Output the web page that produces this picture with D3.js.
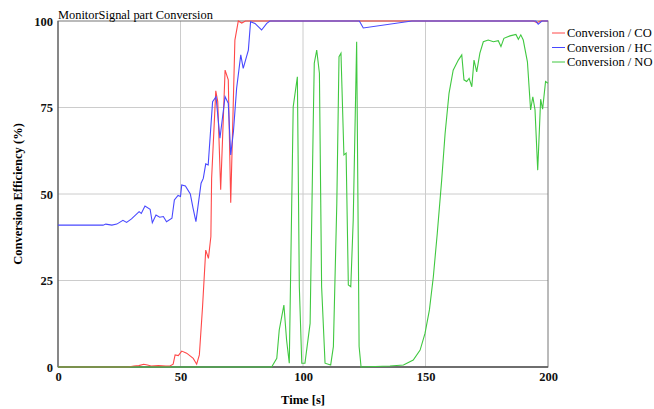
<!DOCTYPE html>
<html>
<head>
<meta charset="utf-8">
<title></title>
<script src="https://cdnjs.cloudflare.com/ajax/libs/d3/7.8.5/d3.min.js"></script>
<style>
  body { margin: 0; background: #fff; }
  text { font-family: "Liberation Serif", "Times New Roman", serif; }
</style>
</head>
<body>
<script>
const width = 654, height = 409;
const margin = {top: 21, right: 106, bottom: 42, left: 58};

// data, time in s, conversion in %
const coTime = [0, 28.6, 31, 33, 35, 36.5, 38, 41, 44, 45.7, 47, 47.8, 49.1, 50.5, 52.5, 55.2, 56.6, 57.7, 59, 60.3, 61.4, 62.4, 62.7, 64.4, 65.2, 66.4, 68.2, 69.5, 70.5, 72.2, 73.6, 75, 76.5, 194, 195.5, 197, 200];
const coValue = [0, 0, 0.3, 0.4, 0.8, 0.6, 0.3, 0.4, 0.3, 0.3, 0.8, 3.5, 3.3, 4.6, 4.0, 2.5, 0.8, 3.5, 17.4, 33.8, 31.4, 37.7, 54.5, 79.8, 76.7, 51.2, 85.8, 83, 47.5, 94.5, 100, 99.4, 100, 100, 99.5, 100, 100];

const hcTime = [0, 18.4, 19.5, 22, 24, 26.5, 28, 30, 33.1, 34, 35.5, 37.6, 38.5, 40, 41.5, 43, 44.3, 46.5, 47.5, 49, 50, 50.5, 52, 54, 55.1, 56.3, 58.4, 59.3, 60.3, 61.3, 63.1, 64.5, 66.1, 68.2, 69.5, 70.5, 71.6, 72.9, 74.6, 75.6, 77.7, 78.6, 80.4, 83.1, 85.2, 86.5, 123, 124.6, 144.4, 195, 196, 197.5, 200];
const hcValue = [41, 41, 41.3, 41, 41.3, 42.4, 41.8, 42.8, 44.9, 44.4, 46.5, 45.6, 41.7, 43.9, 43.3, 43.5, 42, 43, 48.3, 49.6, 49.3, 52.6, 52.3, 50, 46, 42, 53.1, 54.5, 58.7, 58.4, 76.7, 78.1, 66.1, 78.1, 76.2, 61.3, 68, 80.5, 90.2, 86.3, 91.6, 99.8, 99.3, 97.4, 99.3, 100, 100, 98, 100, 100, 99.1, 100, 100];

const noTime = [0, 87.2, 89.3, 90.3, 92.2, 93.3, 94.4, 96, 97.7, 98.5, 99.5, 100.8, 102.9, 104.2, 104.6, 105.6, 106.7, 107.6, 109, 111.3, 112.4, 113.8, 114.7, 115.5, 116.7, 117.6, 118.5, 119.5, 120.5, 121.9, 122.9, 123.7, 135.5, 141, 145, 147.8, 149.8, 151.6, 153.2, 154.8, 156.6, 158, 159.6, 161.3, 163.4, 164.8, 165.7, 166.8, 167.8, 168.9, 169.8, 170.9, 172.2, 173.6, 175.6, 177.7, 179.7, 180.8, 182, 184.5, 186.9, 187.9, 188.9, 189.9, 191.6, 192.9, 193.8, 194.7, 195.8, 197, 197.8, 199, 200];
const noValue = [0, 0, 2.5, 10.7, 17.9, 7.8, 1.1, 75.2, 83.9, 23.2, 1.1, 1.1, 12.6, 71.4, 87.8, 91.6, 84.9, 23.2, 1.1, 0.6, 5.9, 47.3, 89.7, 90.7, 61.3, 61.8, 23.7, 23.2, 42.5, 94, 5.9, 0, 0.3, 0.6, 2, 4.9, 9.7, 16.5, 26.1, 38.6, 54, 67.5, 79.1, 85.8, 88.7, 90.2, 83, 82.5, 83.4, 81, 88.7, 85.3, 90.7, 94, 94.5, 94, 94.3, 92.6, 95, 95.7, 96.1, 94.7, 96, 94.5, 88.2, 74.3, 78.1, 74.3, 56.9, 77.4, 74.5, 82.5, 82];

const xTicks = [0, 50, 100, 150, 200];
const yTicks = [0, 25, 50, 75, 100];

const series = [
  {name: 'Conversion / CO', time: coTime, value: coValue, color: '#ff4848'},
  {name: 'Conversion / HC', time: hcTime, value: hcValue, color: '#4848ff'},
  {name: 'Conversion / NO', time: noTime, value: noValue, color: '#40c840'}
];

const iw = width - margin.left - margin.right;
const ih = height - margin.top - margin.bottom;

const svg = d3.select('body').append('svg')
  .attr('width', width)
  .attr('height', height);

const x = d3.scaleLinear().domain([0, 200]).range([0, iw]);
const y = d3.scaleLinear().domain([0, 100]).range([ih, 0]);

const g = svg.append('g')
  .attr('transform', `translate(${margin.left},${margin.top})`);

// grid
g.append('g')
  .selectAll('line.gx')
  .data(xTicks.slice(1, -1)).enter()
  .append('line')
  .attr('x1', d => x(d)).attr('x2', d => x(d))
  .attr('y1', 0).attr('y2', ih)
  .attr('stroke', '#cccccc');

g.append('g')
  .selectAll('line.gy')
  .data(yTicks.slice(1, -1)).enter()
  .append('line')
  .attr('x1', 0).attr('x2', iw)
  .attr('y1', d => y(d)).attr('y2', d => y(d))
  .attr('stroke', '#cccccc');

// frame
g.append('rect')
  .attr('x', 0).attr('y', 0)
  .attr('width', iw).attr('height', ih)
  .attr('fill', 'none')
  .attr('stroke', '#777');

g.append('line').attr('x1', 0).attr('x2', 0).attr('y1', 0).attr('y2', ih)
  .attr('stroke', '#555');
g.append('line').attr('x1', 0).attr('x2', iw).attr('y1', ih).attr('y2', ih)
  .attr('stroke', '#555').attr('stroke-width', 1.5);

// axes
const xAxis = d3.axisBottom(x).tickValues(xTicks).tickSize(0).tickPadding(5);
const yAxis = d3.axisLeft(y).tickValues(yTicks).tickSize(0).tickPadding(5);

g.append('g')
  .attr('transform', `translate(0,${ih})`)
  .call(xAxis)
  .call(a => a.select('.domain').remove())
  .selectAll('text')
  .attr('font-size', 12.5)
  .attr('font-weight', 'bold')
  .attr('fill', '#111');

g.append('g')
  .call(yAxis)
  .call(a => a.select('.domain').remove())
  .selectAll('text')
  .attr('font-size', 12.5)
  .attr('font-weight', 'bold')
  .attr('fill', '#111');

// lines
const line = (s) => d3.line()
  .x((d, i) => x(s.time[i]))
  .y(d => y(d))(s.value);

series.forEach(s => {
  g.append('path')
    .attr('d', line(s))
    .attr('fill', 'none')
    .attr('stroke', s.color)
    .attr('stroke-width', 1.1);
});

// titles
svg.append('text')
  .attr('x', margin.left)
  .attr('y', 19)
  .attr('font-size', 12.4)
  .attr('fill', '#000')
  .text('MonitorSignal part Conversion');

svg.append('text')
  .attr('x', margin.left + iw / 2)
  .attr('y', 404)
  .attr('text-anchor', 'middle')
  .attr('font-size', 12.5)
  .attr('font-weight', 'bold')
  .text('Time [s]');

svg.append('text')
  .attr('transform', `translate(22,${margin.top + ih / 2}) rotate(-90)`)
  .attr('text-anchor', 'middle')
  .attr('font-size', 12.5)
  .attr('font-weight', 'bold')
  .text('Conversion Efficiency (%)');

// legend
const legend = svg.append('g')
  .attr('transform', `translate(${margin.left + iw + 4},33)`);

series.forEach((s, i) => {
  legend.append('line')
    .attr('x1', 0).attr('x2', 13)
    .attr('y1', i * 14.5).attr('y2', i * 14.5)
    .attr('stroke', s.color);
  legend.append('text')
    .attr('x', 15)
    .attr('y', i * 14.5)
    .attr('dy', '0.35em')
    .attr('font-size', 12.5)
    .text(s.name);
});
</script>
</body>
</html>
